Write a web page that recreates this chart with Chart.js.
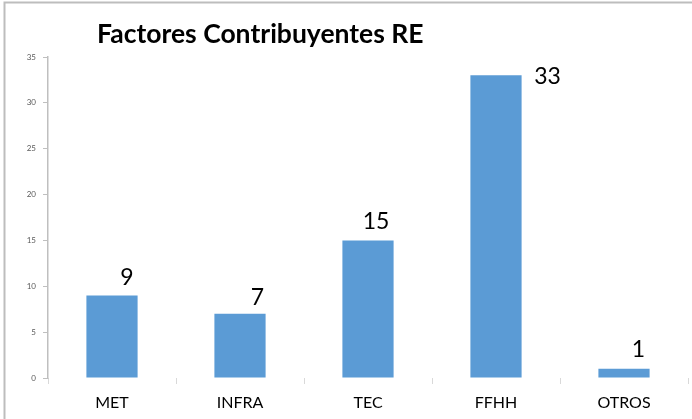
<!DOCTYPE html>
<html>
<head>
<meta charset="utf-8">
<script src="https://cdn.jsdelivr.net/npm/chart.js@4/dist/chart.umd.min.js"></script>
<style>
  html, body { margin: 0; padding: 0; background: #ffffff; }
  #wrap { position: relative; width: 692px; height: 419px; }
</style>
</head>
<body>
<div id="wrap"><canvas id="c" width="692" height="419"></canvas></div>
<script>
const categories = ['MET', 'INFRA', 'TEC', 'FFHH', 'OTROS'];
const values = [9, 7, 15, 33, 1];
const yTickValues = [0, 5, 10, 15, 20, 25, 30, 35];
const titleText = 'Factores Contribuyentes RE';

const framePlugin = {
  id: 'frame',
  beforeDraw(chart) {
    const ctx = chart.ctx;
    ctx.save();
    ctx.fillStyle = '#ffffff';
    ctx.fillRect(0, 0, chart.width, chart.height);
    ctx.strokeStyle = '#bdbdbd';
    ctx.lineWidth = 2;
    ctx.beginPath();
    ctx.moveTo(4.5, chart.height);
    ctx.lineTo(4.5, 2.5);
    ctx.lineTo(chart.width, 2.5);
    ctx.stroke();
    ctx.restore();
  }
};

const titlePlugin = {
  id: 'customTitle',
  afterDraw(chart, args, opts) {
    const ctx = chart.ctx;
    ctx.save();
    ctx.font = opts.font;
    ctx.fillStyle = opts.color;
    ctx.textAlign = 'left';
    ctx.textBaseline = 'alphabetic';
    ctx.fillText(opts.text, opts.x, opts.y);
    ctx.restore();
  }
};

const valueLabelPlugin = {
  id: 'valueLabels',
  afterDatasetsDraw(chart, args, opts) {
    const ctx = chart.ctx;
    const meta = chart.getDatasetMeta(0);
    ctx.save();
    ctx.font = opts.font;
    ctx.fillStyle = opts.color;
    ctx.textAlign = 'center';
    ctx.textBaseline = 'alphabetic';
    meta.data.forEach((bar, i) => {
      const off = opts.offsets[i] || {dx: 0, dy: -10};
      const v = chart.data.datasets[0].data[i];
      ctx.fillText(String(v), bar.x + off.dx, bar.y + off.dy);
    });
    ctx.restore();
  }
};

new Chart(document.getElementById('c'), {
  type: 'bar',
  data: {
    labels: categories,
    datasets: [{
      data: values,
      backgroundColor: '#5b9bd5',
      borderWidth: 0,
      barPercentage: 0.40,
      categoryPercentage: 1.0
    }]
  },
  options: {
    responsive: false,
    animation: false,
    devicePixelRatio: 1,
    layout: { padding: { top: 57, right: 4, left: 0, bottom: 0 } },
    plugins: {
      legend: { display: false },
      title: { display: false },
      tooltip: { enabled: false },
      customTitle: {
        text: titleText,
        font: 'bold 26.5px Lato',
        color: '#000000',
        x: 97,
        y: 43
      },
      valueLabels: {
        font: '23px Lato',
        color: '#000000',
        offsets: [
          {dx: 15, dy: -10},
          {dx: 17.5, dy: -9},
          {dx: 8, dy: -11},
          {dx: 51.5, dy: 9},
          {dx: 14.5, dy: -12}
        ]
      }
    },
    scales: {
      x: {
        afterFit(scale) { scale.height = 41; },
        grid: {
          display: true,
          drawOnChartArea: false,
          drawTicks: true,
          tickLength: 6,
          color: '#d9d9d9',
          offset: true
        },
        border: { display: false },
        ticks: {
          color: '#000000',
          font: { family: 'Lato', size: 16 },
          padding: 9,
          maxRotation: 0
        }
      },
      y: {
        min: 0,
        max: 35,
        afterFit(scale) { scale.width = 48; },
        afterBuildTicks(scale) { scale.ticks = yTickValues.map(v => ({ value: v })); },
        grid: {
          display: true,
          drawOnChartArea: false,
          drawTicks: true,
          tickLength: 5,
          color: '#bfbfbf'
        },
        border: { display: true, color: '#bfbfbf', width: 1.5 },
        ticks: {
          color: '#595959',
          font: { family: 'Lato', size: 8 },
          padding: 7
        }
      }
    }
  },
  plugins: [framePlugin, titlePlugin, valueLabelPlugin]
});
</script>
</body>
</html>
